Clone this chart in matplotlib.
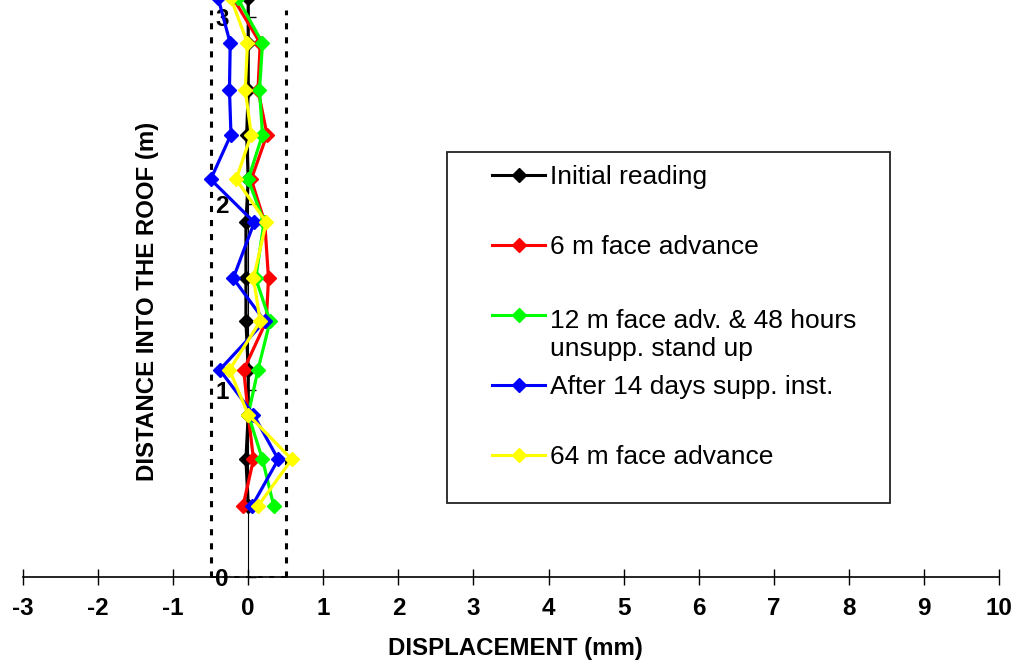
import matplotlib
matplotlib.use("Agg")
import matplotlib.pyplot as plt
from matplotlib.lines import Line2D
from matplotlib.patches import Rectangle

plt.rcParams['font.family'] = ['Liberation Sans', 'DejaVu Sans']
plt.rcParams['axes.unicode_minus'] = False

# --- DATA ---
depth = [0.38, 0.63, 0.87, 1.11, 1.37, 1.60, 1.90, 2.13, 2.37, 2.61, 2.86, 3.10]

initial_reading = [0.00, -0.03, 0.00, 0.00, -0.03, -0.03, -0.03, 0.00, -0.02, 0.00, 0.00, 0.00]
face_6m = [-0.07, 0.07, 0.00, -0.06, 0.24, 0.27, 0.22, 0.04, 0.25, 0.13, 0.16, -0.20]
face_12m = [0.34, 0.19, 0.00, 0.13, 0.29, 0.10, 0.21, 0.00, 0.19, 0.15, 0.19, -0.14]
after_14d = [0.05, 0.40, 0.07, -0.38, 0.22, -0.20, 0.08, -0.50, -0.23, -0.25, -0.24, -0.40]
face_64m = [0.13, 0.58, 0.00, -0.25, 0.16, 0.07, 0.24, -0.16, 0.04, -0.04, -0.01, -0.23]

series = [initial_reading, face_6m, face_12m, after_14d, face_64m]
series_names = ["Initial reading",
                "6 m face advance",
                "12 m face adv. & 48 hours\nunsupp. stand up",
                "After 14 days supp. inst.",
                "64 m face advance"]
series_colors = ['#000000', '#FF0000', '#00FF00', '#0000FF', '#FFFF00']

x_ticks = list(range(-3, 11))
y_ticks = [0, 1, 2, 3]
guide_limit = 0.5

# --- FIGURE ---
W, H = 1018, 666
fig = plt.figure(figsize=(W / 100, H / 100), dpi=100)
ax = fig.add_axes([23 / W, 89 / H, 976 / W, 560 / H])

for vals, col in zip(series, series_colors):
    ax.plot(vals, depth, color=col, lw=2.3, marker='D', ms=7, mec=col,
            mew=1, clip_on=False, zorder=3)

# dotted guide box at +/- 0.5 mm
for gx in (-guide_limit, guide_limit):
    ax.plot([gx, gx], [0, 3.04], color='black', lw=2.2, dashes=(2.0, 2.6),
            clip_on=False, zorder=2)
ax.plot([-guide_limit, guide_limit], [0, 0], color='black', lw=1.2,
        dashes=(3, 4), clip_on=False, zorder=2)

ax.set_xlim(-3, 10)
ax.set_ylim(0, 3)
ax.spines['left'].set_position(('data', 0))
ax.spines['left'].set_linewidth(0.8)
ax.spines['bottom'].set_linewidth(1.2)
ax.spines['top'].set_visible(False)
ax.spines['right'].set_visible(False)
ax.patch.set_visible(False)

ax.set_xticks(x_ticks)
ax.set_yticks(y_ticks)
ax.tick_params(axis='x', direction='inout', length=11.5, width=1, pad=9,
               labelsize=17.5)
ax.tick_params(axis='y', direction='in', length=6, width=1, pad=14,
               labelsize=17.5)
for lab in ax.get_xticklabels() + ax.get_yticklabels():
    lab.set_fontweight('bold')

ax.set_xlabel("DISPLACEMENT (mm)", fontsize=17.3, fontweight='bold', va='center')
ax.xaxis.set_label_coords(0.505, -0.127)
ax.set_ylabel("DISTANCE INTO THE ROOF (m)", fontsize=17.3, fontweight='bold',
              va='center')
ax.yaxis.set_label_coords(0.128, 0.493)

# --- LEGEND (drawn by hand to follow the original layout) ---
def fx(px):
    return px / W

def fy(py):
    return 1 - py / H

fig.add_artist(Rectangle((fx(447), fy(503)), fx(890) - fx(447), fy(152) - fy(503),
                         transform=fig.transFigure, fill=False,
                         edgecolor='#222222', lw=1.3))
line_px = 19 * 1.2 * 100 / 72
for i, (name, col) in enumerate(zip(series_names, series_colors)):
    yc = 175 + 70 * i
    fig.add_artist(Line2D([fx(492), fx(518.5), fx(545)], [fy(yc)] * 3,
                          transform=fig.transFigure, color=col, lw=2.2,
                          marker='D', ms=7, mec=col, markevery=[1]))
    # baseline alignment uses the last line, so push multi-line text down
    extra = line_px * name.count("\n")
    fig.text(fx(550), fy(yc + 9.5 + extra), name, fontsize=19, va='baseline',
             ha='left', linespacing=1.2)

fig.savefig("out.png", dpi=100)
